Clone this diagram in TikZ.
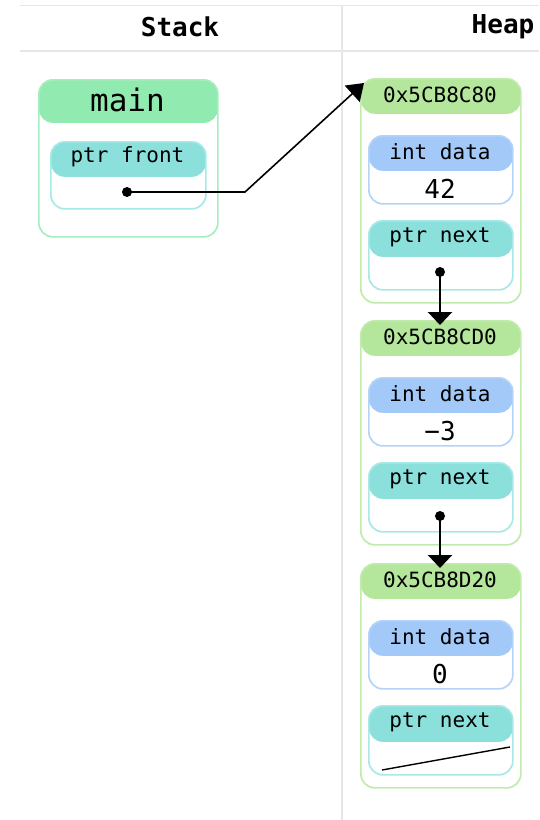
\documentclass[tikz,border=0pt]{standalone}
\usepackage{fontspec}
\setmonofont{DejaVu Sans Mono}
\usetikzlibrary{arrows.meta}

\definecolor{mainBd}{HTML}{A8EDC0}
\definecolor{mainHd}{HTML}{91EAB0}
\definecolor{heapHd}{HTML}{B4E69C}
\definecolor{heapBd}{HTML}{C0EBAC}
\definecolor{ptrHd}{HTML}{8BE0DC}
\definecolor{ptrBd}{HTML}{A8E8E6}
\definecolor{intHd}{HTML}{A3C9F9}
\definecolor{intBd}{HTML}{B4D3F9}
\definecolor{rulegray}{HTML}{E6E6E6}

\tikzset{
  box/.style args={#1/#2/#3}{draw=#1, fill=white, line width=1.7pt,
    rounded corners=14pt, inner sep=0pt, anchor=north west,
    path picture={\fill[#2] (path picture bounding box.north west)
      rectangle ([yshift=-#3]path picture bounding box.north east);}},
  lbl/.style={font=\fontsize{21}{24}\selectfont\ttfamily, inner sep=0pt},
  val/.style={font=\fontsize{26}{30}\selectfont\ttfamily, inner sep=0pt},
  title/.style={font=\fontsize{26}{30}\selectfont\ttfamily\bfseries, inner sep=0pt},
  ptrdot/.style={circle, fill=black, inner sep=0pt, minimum size=10pt},
  link/.style={line width=2.4pt, -{Triangle[width=24pt,length=13pt]}},
}

\begin{document}
\begin{tikzpicture}[x=1pt, y=-1pt]
\useasboundingbox (0,0) rectangle (539,820);

% column rules
\coordinate (rTL) at (20,5);
\coordinate (rTR) at (539,5);
\coordinate (rML) at (20,51);
\coordinate (rMR) at (539,51);
\coordinate (rVT) at (342,5);
\coordinate (rVB) at (342,820);
\draw[rulegray, line width=1pt] (rTL) -- (rTR);
\draw[rulegray, line width=2pt] (rML) -- (rMR);
\draw[rulegray, line width=2pt] (rVT) -- (rVB);

\node[title] (stackT) at (180,27) {Stack};
\node[title] (heapT) at (503,27) {Heap};

% stack frame
\node[box={mainBd/mainHd/43pt}, minimum width=179pt, minimum height=157pt] (mainF) at (38,79) {};
\node[font=\fontsize{31}{34}\selectfont\ttfamily, inner sep=0pt] (mainT) at (127.5,100) {main};
\node[box={ptrBd/ptrHd/35pt}, minimum width=155pt, minimum height=67pt] (frontB) at (50,141) {};
\node[lbl] (frontT) at (127.5,157) {ptr front};
\node[ptrdot] (frontD) at (127,192) {};

% heap objects
\foreach \i/\y/\addr/\v in {1/78/0x5CB8C80/42, 2/320/0x5CB8CD0/−3, 3/563/0x5CB8D20/0}{
  \node[box={heapBd/heapHd/35pt}, minimum width=160pt, minimum height=224pt] (h\i) at (360,\y) {};
  \node[lbl] (a\i) at (440,\y+17) {\addr};
  \node[box={intBd/intHd/35pt}, minimum width=144pt, minimum height=68pt] (d\i) at (368,\y+57) {};
  \node[lbl] (dl\i) at (440,\y+74) {int data};
  \node[val] (dv\i) at (440,\y+111) {\v};
  \node[box={ptrBd/ptrHd/36pt}, minimum width=144pt, minimum height=69pt] (p\i) at (368,\y+142) {};
  \node[lbl] (pl\i) at (440,\y+159) {ptr next};
}

\node[ptrdot] (nD1) at (440,272) {};
\node[ptrdot] (nD2) at (440,516) {};

% pointers
\coordinate (bend) at (245,192);
\coordinate (h1tip) at (364,83);
\draw[line width=1.6pt, -{Triangle[width=22pt,length=16pt]}] (frontD.center) -- (bend) -- (h1tip);
\coordinate (h2tip) at (440,325);
\coordinate (h3tip) at (440,568);
\draw[link] (nD1.center) -- (h2tip);
\draw[link] (nD2.center) -- (h3tip);

% null pointer
\coordinate (nullA) at (382,770);
\coordinate (nullB) at (510,747);
\draw[line width=1.4pt] (nullA) -- (nullB);
\end{tikzpicture}
\end{document}
